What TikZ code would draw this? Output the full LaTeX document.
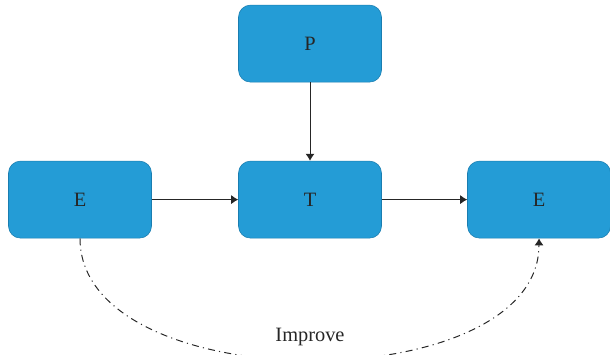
\documentclass[tikz,border=0pt]{standalone}
\usepackage{fontspec}
\setmainfont{Liberation Serif}
\usetikzlibrary{arrows.meta}
\definecolor{boxblue}{HTML}{249CD6}
\definecolor{boxedge}{HTML}{1A7DB0}
\begin{document}
\begin{tikzpicture}
[auto,
 block/.style ={rectangle, draw=boxedge, thin, fill=boxblue, minimum width=3.575cm, minimum height=1.925cm, rounded corners=0.3cm, font=\fontsize{14.5}{16}\selectfont, text=black!85},
 line/.style ={draw, black!85, line width=0.7pt, -{Latex[length=5pt,width=6.5pt]}},
 loop/.style ={draw, black!85, line width=0.7pt, -{Latex[length=5pt,width=6.5pt]}, dash pattern=on 5pt off 3pt on 0.8pt off 3pt}]
\useasboundingbox (0,0) rectangle (15.25,-8.875);
\path (7.75,-1.09) node[block] (P) {P}
      (2.0,-4.99) node[block] (E1) {E}
      (7.75,-4.99) node[block] (T) {T}
      (13.475,-4.99) node[block] (E2) {E};
\path (7.75,-8.425) node[font=\fontsize{14.5}{16}\selectfont, text=black!85] (improve) {Improve};
\draw[line] (P.south) -- (T.north);
\draw[line] (E1.east) -- (T.west);
\draw[line] (T.east) -- (E2.west);
\draw[loop] (E1.south) .. controls +(0,-4.05) and +(0,-4.05) .. (E2.south);
\end{tikzpicture}
\end{document}
